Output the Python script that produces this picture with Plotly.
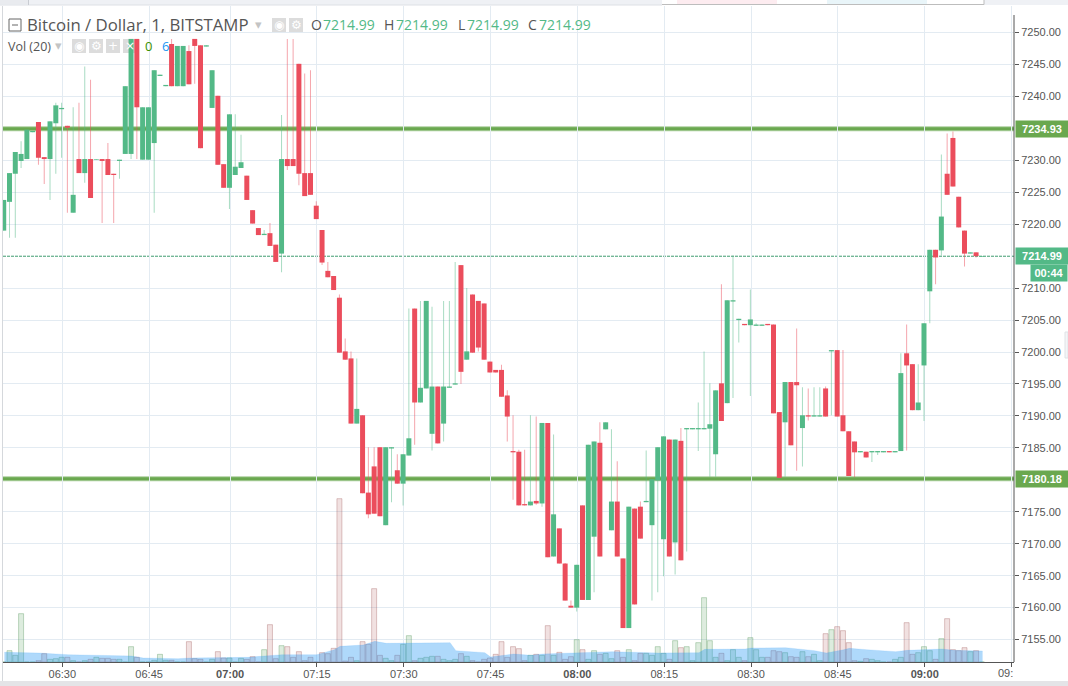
import plotly.graph_objects as go

bar_index = list(range(-10, 160))

opens = [7219.0,7223.5,7227.9,7229.9,7230.2,7234.4,7236.0,7230.5,7230.2,7235.8,
 7238.0,7235.4,7221.8,7230.2,7228.0,7230.2,7230.1,7230.2,7230.2,7227.9,
 7229.9,7231.0,7231.0,7249.0,7230.1,7230.1,7232.7,7243.2,7241.6,7248.2,
 7241.6,7241.6,7247.1,7249.0,7248.0,7247.8,7238.2,7240.1,7229.4,7225.7,
 7227.7,7228.8,7227.6,7222.2,7219.4,7218.3,7218.6,7216.8,7215.4,7230.2,
 7230.2,7245.1,7228.0,7228.0,7222.9,7219.1,7212.7,7211.9,7208.5,7200.1,
 7199.0,7188.8,7190.1,7178.0,7182.1,7185.1,7172.9,7184.9,7181.5,7179.4,
 7183.8,7206.8,7192.1,7194.3,7187.2,7194.6,7188.8,7194.4,7194.9,7213.6,
 7198.8,7209.0,7208.0,7207.6,7198.5,7197.2,7197.2,7193.2,7184.5,7184.4,
 7176.2,7176.0,7176.7,7176.3,7188.9,7168.0,7172.4,7166.9,7160.3,7160.0,
 7176.0,7161.2,7171.1,7185.8,7187.9,7172.1,7176.6,7167.7,7156.8,7175.5,
 7175.8,7176.5,7172.9,7179.9,7170.7,7186.3,7170.2,7186.1,7187.9,7187.9,
 7187.9,7187.9,7188.0,7184.0,7195.1,7192.0,7207.9,7205.0,7204.4,7204.2,
 7204.1,7204.1,7204.4,7204.3,7190.6,7189.0,7195.3,7195.3,7188.1,7190.1,
 7189.9,7189.9,7194.3,7200.1,7200.3,7190.1,7187.6,7186.0,7184.3,7184.4,
 7184.3,7184.3,7184.3,7184.5,7184.3,7184.5,7199.8,7198.1,7190.9,7197.9,
 7209.5,7216.0,7215.9,7227.9,7233.5,7224.3,7219.0,7215.4,7215.6,7214.9]
highs = [7223.8,7228.0,7231.3,7233.0,7234.8,7234.6,7236.0,7230.5,7236.1,7239.0,
 7239.0,7235.4,7238.3,7239.0,7244.7,7242.6,7230.2,7230.2,7232.7,7227.9,
 7230.1,7241.6,7249.0,7249.0,7238.3,7238.3,7244.1,7243.4,7241.8,7249.0,
 7247.9,7247.9,7248.0,7249.0,7248.0,7248.0,7244.1,7240.1,7229.4,7237.2,
 7237.2,7234.0,7227.6,7222.2,7219.4,7219.1,7220.2,7216.8,7237.1,7249.0,
 7249.0,7245.1,7243.6,7244.1,7223.6,7219.1,7214.1,7211.9,7209.0,7202.1,
 7200.1,7199.0,7190.1,7185.1,7185.1,7185.1,7185.1,7185.1,7184.0,7184.0,
 7206.8,7206.8,7208.0,7208.0,7207.1,7194.6,7208.0,7208.0,7214.1,7213.6,
 7210.0,7209.0,7208.0,7207.6,7198.5,7197.2,7198.0,7194.0,7190.1,7184.7,
 7184.7,7190.1,7189.9,7188.9,7188.9,7187.1,7172.4,7167.0,7161.1,7166.7,
 7176.0,7185.5,7186.0,7189.0,7189.0,7187.9,7182.9,7167.7,7175.8,7175.5,
 7176.6,7184.6,7180.1,7185.1,7186.8,7186.3,7186.3,7188.1,7188.1,7188.1,
 7192.1,7200.1,7195.1,7194.0,7210.6,7208.1,7215.1,7205.2,7204.4,7209.8,
 7204.5,7204.3,7204.4,7204.3,7190.6,7195.3,7195.3,7203.7,7194.5,7194.3,
 7194.5,7194.5,7194.6,7200.3,7200.3,7200.3,7187.6,7186.0,7184.5,7184.4,
 7184.5,7184.5,7184.5,7184.5,7184.5,7199.8,7204.3,7198.1,7198.1,7204.5,
 7216.0,7216.0,7230.9,7234.2,7234.5,7224.3,7219.0,7215.6,7215.6,7215.0]
lows = [7219.0,7217.9,7217.9,7228.8,7230.2,7234.4,7229.3,7226.3,7223.8,7227.9,
 7230.4,7221.8,7221.8,7228.0,7226.5,7224.1,7230.1,7220.2,7227.7,7220.2,
 7227.1,7231.0,7230.2,7230.2,7230.1,7230.1,7221.8,7243.2,7241.6,7241.6,
 7241.6,7241.6,7241.9,7242.0,7231.9,7247.8,7238.2,7229.3,7225.7,7222.4,
 7227.7,7228.8,7223.8,7220.1,7218.3,7218.3,7216.6,7214.1,7212.5,7228.5,
 7229.1,7226.1,7224.4,7224.6,7220.8,7213.6,7211.7,7209.7,7199.9,7198.8,
 7188.8,7188.8,7177.9,7174.0,7174.7,7174.3,7172.9,7176.5,7179.4,7176.0,
 7183.8,7185.5,7192.1,7194.3,7184.6,7185.7,7186.0,7194.4,7194.9,7195.0,
 7198.8,7199.9,7200.1,7198.8,7196.8,7196.8,7193.0,7186.0,7176.9,7176.0,
 7176.0,7176.0,7176.1,7175.8,7167.9,7168.0,7166.9,7161.1,7160.0,7159.4,
 7161.2,7161.2,7162.4,7168.0,7187.9,7172.1,7168.0,7156.8,7156.8,7160.5,
 7170.8,7176.5,7161.1,7162.4,7164.9,7168.0,7165.2,7167.4,7168.8,7187.9,
 7184.5,7187.9,7180.5,7180.5,7189.2,7192.0,7192.8,7201.5,7204.2,7193.1,
 7204.1,7204.1,7204.2,7190.4,7180.3,7180.5,7185.4,7181.4,7182.1,7189.3,
 7189.9,7189.9,7189.9,7190.1,7189.9,7187.6,7180.6,7180.4,7184.3,7183.5,
 7182.8,7183.9,7184.3,7184.3,7184.3,7184.5,7184.6,7190.9,7190.9,7189.2,
 7204.5,7210.6,7215.1,7224.6,7225.9,7219.5,7213.4,7215.4,7214.8,7214.9]
closes = [7223.8,7228.0,7231.3,7231.0,7234.8,7234.6,7230.4,7230.2,7236.1,7238.6,
 7238.2,7235.1,7224.6,7228.0,7230.2,7224.1,7230.2,7229.9,7227.7,7227.7,
 7230.1,7241.6,7249.0,7238.3,7238.3,7238.3,7244.1,7243.4,7241.8,7241.6,
 7247.9,7247.9,7241.9,7247.9,7231.9,7248.0,7244.1,7229.3,7225.7,7237.2,
 7229.0,7229.7,7223.8,7220.1,7218.3,7218.5,7216.6,7214.1,7230.2,7229.1,
 7229.1,7227.9,7224.4,7224.6,7220.8,7214.0,7211.7,7209.7,7199.9,7198.8,
 7188.8,7191.1,7177.9,7174.6,7174.7,7174.3,7185.1,7185.1,7179.4,7184.0,
 7186.5,7192.1,7194.4,7208.0,7194.6,7185.7,7194.6,7194.6,7195.1,7196.9,
 7200.1,7199.9,7200.7,7198.8,7196.8,7196.8,7193.0,7189.9,7184.3,7176.0,
 7176.0,7176.6,7176.3,7188.9,7167.9,7174.6,7166.9,7161.1,7160.0,7166.7,
 7161.2,7185.5,7186.0,7168.0,7189.0,7176.6,7168.0,7156.8,7175.8,7160.5,
 7170.8,7176.7,7180.1,7185.1,7186.8,7168.0,7186.3,7167.4,7188.1,7188.1,
 7188.1,7188.1,7188.7,7194.0,7189.2,7208.1,7208.1,7205.2,7204.2,7205.1,
 7204.3,7204.3,7204.2,7190.4,7180.3,7195.3,7185.4,7194.8,7190.1,7189.9,
 7190.1,7190.1,7189.9,7200.3,7189.9,7187.6,7180.6,7184.3,7184.5,7183.5,
 7184.5,7184.5,7184.5,7184.3,7184.5,7196.7,7197.9,7190.9,7192.1,7204.5,
 7216.0,7214.8,7221.2,7224.6,7225.9,7219.5,7215.4,7215.6,7215.0,7215.0]

volumes = [0,34,20,145,0,0,4,25,8,10,
 14,14,4,0,4,8,14,11,11,8,
 8,0,46,14,0,0,5,23,5,5,
 0,0,61,10,8,0,8,31,12,12,
 0,11,8,16,0,37,112,10,49,46,
 14,31,4,14,0,28,25,41,490,3,
 14,4,61,53,220,20,11,4,20,53,
 79,4,11,14,17,17,8,4,8,25,
 17,4,0,8,12,23,61,14,46,40,
 4,20,23,20,109,20,29,8,16,67,
 37,8,34,23,26,10,34,14,37,4,
 26,26,20,46,26,8,64,43,46,4,
 58,193,64,14,26,4,37,14,4,73,
 37,14,14,34,31,28,16,14,31,16,
 23,4,85,97,106,94,58,4,2,10,
 8,4,0,0,8,14,118,23,28,46,
 34,8,70,130,37,34,43,31,34,0]

vol_ma_index = [-10,-7,-4,1,5,12,14,20,22,32,35,38,44,47,48,52,54,56,67,68,73,74,78,81,
                83,89,95,103,110,111,118,119,125,130,132,135,136,139,144,146,152,154,159]
vol_ma_value = [29,28,27,22,21,18,12,10,12,14,18,22,22,37,47,51,62,56,58,34,28,15,24,20,
                24,28,31,27,28,38,39,42,43,34,27,37,41,37,31,35,39,35,33]

tick_index = [0,15,29,44,59,74,89,104,119,134,149,164]
tick_text = ["06:30","06:45","<b>07:00</b>","07:15","07:30","07:45","<b>08:00</b>","08:15",
             "08:30","08:45","<b>09:00</b>",""]
price_ticks = [7155,7160,7165,7170,7175,7185,7190,7195,7200,7205,7210,7220,
               7225,7230,7240,7245,7250]
levels = [7234.93, 7180.18]
last_price = 7214.99

GREEN, RED = "#53b987", "#eb4d5c"
GREEN_BODY, RED_BODY = "rgba(83,185,135,0.999)", "rgba(235,77,92,0.999)"
GREEN_W, RED_W = "rgba(83,185,135,0.5)", "rgba(235,77,92,0.5)"
LEVEL = "#6aa84f"
FONT = "Liberation Sans"
LEGEND_FONT = "Open Sans"
TEXT = "#555555"
GRID = "#e3ebf2"
PX = 5.788
NUDGE = -0.7 / PX
up = [c >= o for o, c in zip(opens, closes)]

L, R, T, B = 3, 1014, 6, 662
def xp(px): return (px - L) / (R - L)
def yp(py): return (B - py) / (B - T)

fig = go.Figure()

fig.add_trace(go.Bar(x=bar_index, y=volumes, width=5.0 / PX, offset=-2.5 / PX + NUDGE, yaxis="y", xaxis="x",
    marker=dict(color=["rgba(83,160,90,0.2)" if u else "rgba(170,80,80,0.17)" for u in up],
                line=dict(color=["rgba(83,150,90,0.35)" if u else "rgba(150,70,70,0.3)" for u in up], width=1)),
    hoverinfo="skip", showlegend=False))
fig.add_trace(go.Scatter(x=vol_ma_index, y=vol_ma_value, mode="lines", yaxis="y", xaxis="x",
    fill="tozeroy", fillcolor="rgba(33,150,243,0.36)",
    line=dict(color="rgba(33,150,243,0.12)", width=1), hoverinfo="skip", showlegend=False))

fig.add_trace(go.Bar(x=bar_index, y=[h - l for h, l in zip(highs, lows)], base=lows,
    width=1.0 / PX, offset=-0.5 / PX + NUDGE, yaxis="y2", xaxis="x",
    marker=dict(color=[GREEN_W if u else RED_W for u in up], line=dict(width=0)),
    hoverinfo="skip", showlegend=False))
fig.add_trace(go.Bar(x=bar_index, y=[c - o for o, c in zip(opens, closes)], base=opens,
    width=5.0 / PX, offset=-2.5 / PX + NUDGE, yaxis="y2", xaxis="x",
    marker=dict(color=[GREEN_BODY if u else RED_BODY for u in up], line=dict(width=0)),
    hoverinfo="skip", showlegend=False))

shapes = []
x_lo, x_hi = -10.245, 164.43
for lv in levels:
    shapes.append(dict(type="line", xref="x", yref="y2", x0=x_lo, x1=x_hi, y0=lv, y1=lv,
                       layer="below", line=dict(color="rgba(106,168,79,0.55)", width=5)))
    shapes.append(dict(type="line", xref="x", yref="y2", x0=x_lo, x1=x_hi, y0=lv, y1=lv,
                       layer="below", line=dict(color=LEVEL, width=3)))
shapes.append(dict(type="line", xref="x", yref="y2", x0=x_lo, x1=x_hi, y0=last_price, y1=last_price,
                   layer="below", line=dict(color="#3f9c70", width=1, dash="3px,1px")))

def rect(x0, y0, x1, y1, fill, line=None, layer="above", lw=1):
    shapes.append(dict(type="rect", xref="paper", yref="paper", x0=xp(x0), x1=xp(x1),
                       y0=yp(y1), y1=yp(y0), fillcolor=fill, layer=layer,
                       line=dict(color=line or "rgba(0,0,0,0)", width=lw if line else 0)))

def seg(x0, y0, x1, y1, color, w=1):
    shapes.append(dict(type="line", xref="paper", yref="paper", x0=xp(x0), x1=xp(x1),
                       y0=yp(y0), y1=yp(y1), line=dict(color=color, width=w)))

# frame pieces
rect(0, 0, 1068, 5, "#eff1f5")
seg(0, 5, 662, 5, "#dde0e5", 1)
rect(0, 0, 28, 4.5, "#e9ebef")
seg(28.5, 0, 28.5, 5, "#c9ccd2")
rect(662, 0, 984, 4, "#ffffff", None)
rect(677, 0, 777, 4, "#fdecf0")
rect(827, 0, 927, 4, "#e9f5f9")
seg(662, 4.5, 984, 4.5, "#bdbdbd", 1)
seg(984, 0, 984, 4.5, "#bdbdbd", 1)
seg(2.5, 6, 2.5, 681, "#d5d8dc", 1)
rect(0, 681, 1068, 686, "#e4e4e7")
seg(1014, 15, 1014, 662, "#555555", 1)
rect(1065, 332, 1068, 358, "#f4f5f7", "#dfe2e6")

# legend boxes
rect(9, 19, 21, 31, "rgba(0,0,0,0)", "#666666", lw=1)
seg(12, 25, 18, 25, "#666666", 1)
for bx, by in [(272, 18), (289, 18), (72, 39), (89, 39), (106, 39), (123, 39)]:
    rect(bx, by, bx + 14, by + 14, "#dcdcdc", layer="below")

ann = []
def text(px, py, s, color=TEXT, size=14, anchor="left", family=LEGEND_FONT, **kw):
    ann.append(dict(x=xp(px - (2 if anchor == "left" else 0)), y=yp(py), xref="paper", yref="paper",
                    text=s, showarrow=False, xanchor=anchor, yanchor="middle",
                    font=dict(family=family, size=size, color=color), **kw))

text(27, 25, "Bitcoin / Dollar, 1, BITSTAMP", size=16.8)
text(258, 24, "▾", color="#c4c4c4", size=13, anchor="center")
for px, s in [(279, "◉"), (296, "⚙")]:
    text(px, 25, s, color="#ffffff", size=12, anchor="center", family="DejaVu Sans")
for lx, vx, s in [(311, 323, "O"), (384, 396, "H"), (458, 467, "L"), (528, 539, "C")]:
    text(lx, 25, s, size=14)
    text(vx, 25, "7214.99", color=GREEN, size=14)
text(8, 46, "Vol (20)", size=12.5)
text(58, 45, "▾", color="#c4c4c4", size=13, anchor="center")
for px, s in [(79, "◉"), (96, "⚙"), (113, "+"), (130, "×")]:
    text(px, 46, s, color="#ffffff", size=12, anchor="center", family="DejaVu Sans")
text(145, 46, "0", color="#3a8f00", size=13)
text(162, 46, "6", color="#2196f3", size=13)
text(1005, 673, "09:", size=11, anchor="center", family=FONT)

def tag(value, color, label, yshift=0, x0=1014.5, w=51):
    ann.append(dict(x=xp(x0), y=value, xref="paper", yref="y2", text="<b>%s</b>" % label, showarrow=False,
                    xanchor="left", yanchor="middle", yshift=yshift, width=w, height=15, borderpad=0.5,
                    align="center", bgcolor=color, font=dict(family=FONT, size=11, color="#ffffff")))

tag(levels[0], LEVEL, "%.2f" % levels[0])
tag(levels[1], LEVEL, "%.2f" % levels[1])
tag(last_price, GREEN, "%.2f" % last_price)
tag(last_price, GREEN, "00:44", yshift=-17, x0=1030, w=35)

fig.update_layout(
    width=1068, height=686, autosize=False,
    margin=dict(l=L, r=1068 - R, t=T, b=686 - B, pad=0),
    paper_bgcolor="#ffffff", plot_bgcolor="#ffffff",
    barmode="overlay", showlegend=False, hovermode=False,
    shapes=shapes, annotations=ann,
    xaxis=dict(range=[x_lo, x_hi], tickmode="array", tickvals=tick_index, ticktext=tick_text,
               showgrid=True, gridcolor=GRID, gridwidth=1, zeroline=False,
               showline=True, linecolor="#555555", linewidth=1,
               ticks="outside", ticklen=4, tickcolor="#555555", ticklabelstandoff=-2,
               tickfont=dict(family=FONT, size=11, color=TEXT)),
    yaxis=dict(range=[0, 1968], showgrid=False, zeroline=False, showticklabels=False, ticks=""),
    yaxis2=dict(range=[7151.49, 7254.15], overlaying="y", side="right", tickmode="array",
                tickvals=price_ticks, ticktext=["%.2f" % v for v in price_ticks],
                showgrid=True, gridcolor=GRID, gridwidth=1, zeroline=False, showline=False,
                ticks="outside", ticklen=4, tickcolor="#555555",
                tickfont=dict(family=FONT, size=11, color=TEXT)),
)

fig.write_html("out.html", config=dict(displayModeBar=False),
    post_script="document.body.style.margin='0';document.documentElement.style.overflow='hidden';")
